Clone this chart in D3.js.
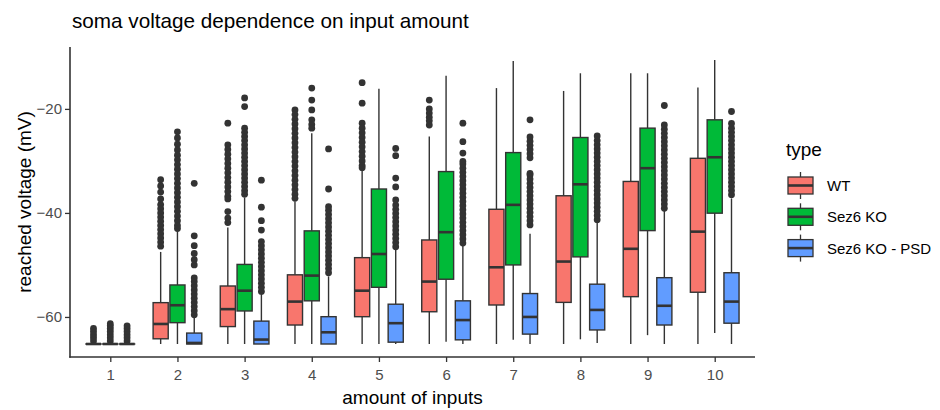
<!DOCTYPE html>
<html>
<head>
<meta charset="utf-8">
<script src="https://cdn.jsdelivr.net/npm/d3@7"></script>
<style>
body { margin: 0; background: #fff; }
text { font-family: "Liberation Sans", Arial, Helvetica, sans-serif; }
</style>
</head>
<body>
<svg id="chart" width="940" height="410"></svg>
<script>
// ---------------- data ----------------
const categories = ["1", "2", "3", "4", "5", "6", "7", "8", "9", "10"];
const types = ["WT", "Sez6 KO", "Sez6 KO - PSD"];
const yTicks = [-60, -40, -20];

// per category: [lower whisker, Q1, median, Q3, upper whisker]  (mV)
const wtStats = [
  [-65.2, -65.2, -65.2, -65.2, -65.2],
  [-65.2, -64.2, -61.35, -57.25, -47.5],
  [-65.2, -61.85, -58.5, -54.05, -42.8],
  [-65.2, -61.55, -57.05, -51.9, -37.8],
  [-65.2, -59.95, -54.95, -48.6, -31.8],
  [-65.2, -59.0, -53.2, -45.2, -25.3],
  [-65.2, -57.7, -50.45, -39.3, -16.0],
  [-65.2, -57.2, -49.35, -36.7, -16.55],
  [-65.2, -56.1, -46.9, -33.95, -13.15],
  [-65.2, -55.25, -43.6, -29.5, -15.9]
];
const koStats = [
  [-65.2, -65.2, -65.2, -65.2, -65.2],
  [-65.2, -61.1, -57.75, -53.85, -43.5],
  [-65.2, -58.85, -54.95, -49.9, -37.0],
  [-65.2, -56.9, -52.05, -43.45, -24.7],
  [-65.2, -54.3, -47.9, -35.4, -16.15],
  [-64.75, -52.75, -43.7, -32.05, -13.65],
  [-64.4, -50.0, -38.45, -28.4, -10.8],
  [-64.3, -48.45, -34.5, -25.5, -13.15],
  [-63.5, -43.4, -31.4, -23.7, -13.15],
  [-63.1, -40.05, -29.3, -22.1, -10.6]
];
const psdStats = [
  [-65.2, -65.2, -65.2, -65.2, -65.2],
  [-65.2, -65.2, -65.0, -63.1, -60.0],
  [-65.2, -65.2, -64.35, -60.8, -54.4],
  [-65.2, -65.2, -62.95, -59.95, -52.2],
  [-65.2, -64.85, -61.2, -57.55, -47.0],
  [-65.2, -64.4, -60.6, -56.9, -46.2],
  [-65.2, -63.3, -60.0, -55.5, -44.0],
  [-65.0, -62.5, -58.65, -53.7, -41.8],
  [-65.2, -61.55, -57.85, -52.45, -39.3],
  [-65.2, -61.2, -57.05, -51.5, -37.2]
];

// outliers per category (mV)
const wtOutliers = [
  [-64.6, -64.0, -63.4, -62.8, -62.2],
  [-33.6, -34.8, -36.0, -37.3, -38.4, -39.2, -40.0, -40.8, -41.6, -42.4, -43.2, -44.0, -44.8, -45.6, -46.4],
  [-22.75, -26.9, -27.8, -28.7, -29.6, -30.5, -31.4, -32.3, -33.2, -34.1, -35.0, -35.9, -36.8, -37.3, -39.75, -41.0, -41.85],
  [-20.2, -21.1, -22.0, -22.9, -23.8, -24.7, -25.6, -26.5, -27.4, -28.3, -29.2, -30.1, -31.0, -31.9, -32.8, -33.7, -34.6, -35.5, -36.4, -37.2],
  [-14.95, -18.9, -22.75, -23.7, -24.6, -25.5, -26.4, -27.3, -28.2, -29.1, -30.0, -30.9, -31.3],
  [-18.3, -20.0, -20.8, -21.6, -22.3, -23.1],
  [], [], [], []
];
const koOutliers = [
  [-64.6, -64.0, -63.4, -62.8, -62.2, -61.7, -61.3],
  [-24.4, -25.6, -26.8, -27.9, -28.9, -29.8, -30.7, -31.6, -32.5, -33.4, -34.3, -35.2, -36.1, -37.0, -37.9, -38.8, -39.7, -40.6, -41.5, -42.4, -43.0],
  [-17.9, -19.55, -23.7, -24.5, -25.3, -26.1, -26.9, -27.7, -28.5, -29.3, -30.1, -30.9, -31.7, -32.5, -33.3, -34.1, -34.9, -35.7, -36.4],
  [-16.0, -18.3, -20.2, -22.1, -23.0, -23.7],
  [], [], [], [], [], []
];
const psdOutliers = [
  [-64.6, -64.0, -63.4, -62.8, -62.2, -61.7],
  [-59.6, -58.8, -58.0, -57.2, -56.4, -55.6, -54.8, -54.0, -53.2, -52.5, -50.0, -49.0, -47.8, -46.3, -44.4, -34.3],
  [-55.1, -54.3, -53.5, -52.7, -51.9, -51.1, -50.3, -49.5, -48.7, -47.9, -47.1, -46.3, -45.5, -43.3, -41.5, -38.9, -33.7],
  [-51.5, -50.7, -49.9, -49.1, -48.3, -47.5, -46.7, -45.9, -45.1, -44.3, -43.5, -42.7, -41.9, -41.1, -40.3, -39.5, -38.8, -35.4, -27.7],
  [-46.5, -45.7, -44.9, -44.1, -43.3, -42.5, -41.7, -40.9, -40.1, -39.3, -38.5, -37.5, -35.0, -33.3, -29.0, -27.6],
  [-45.8, -45.0, -44.2, -43.4, -42.6, -41.8, -41.0, -40.2, -39.4, -38.6, -37.8, -37.0, -36.2, -35.4, -34.6, -33.8, -33.0, -32.2, -31.4, -30.6, -30.1, -28.5, -26.3, -22.75],
  [-42.3, -41.5, -40.7, -39.9, -39.1, -38.3, -37.5, -36.7, -35.9, -35.1, -34.3, -33.5, -32.7, -32.4, -29.4, -28.6, -27.8, -27.0, -26.2, -25.4, -22.1],
  [-41.3, -40.5, -39.7, -38.9, -38.1, -37.3, -36.5, -35.7, -34.9, -34.1, -33.3, -32.5, -31.7, -30.9, -30.1, -29.3, -28.5, -27.7, -26.9, -26.1, -25.2],
  [-39.1, -38.3, -37.5, -36.7, -35.9, -35.1, -34.3, -33.5, -32.7, -31.9, -31.1, -30.3, -29.5, -28.7, -27.9, -27.1, -26.3, -25.5, -24.7, -23.9, -23.1, -19.35],
  [-36.5, -35.7, -34.9, -34.1, -33.3, -32.5, -31.7, -30.9, -30.1, -29.3, -28.5, -27.7, -26.9, -26.1, -25.3, -24.5, -23.7, -22.8, -20.5]
];

const colors = ["#F8766D", "#00BA38", "#619CFF"];
const statsByType = [wtStats, koStats, psdStats];
const outliersByType = [wtOutliers, koOutliers, psdOutliers];

// ---------------- layout ----------------
const svg = d3.select("#chart");
const plotLeft = 70, plotRight = 755, plotTop = 47, plotBottom = 357;

const x = d3.scalePoint().domain(categories).range([plotLeft, plotRight]).padding(0.6);
const step = x.step();
const dodge = d3.scalePoint().domain(types).range([-0.25 * step, 0.25 * step]);
const boxW = 0.225 * step;
const y = d3.scaleLinear().domain([-67.7, -8.1]).range([plotBottom, plotTop]);

const ink = "#333333";

// boxes
types.forEach((t, ti) => {
  const g = svg.append("g");
  categories.forEach((c, ci) => {
    const [lo, q1, med, q3, hi] = statsByType[ti][ci];
    const cx = x(c) + dodge(t);
    g.append("line").attr("x1", cx).attr("x2", cx).attr("y1", y(hi)).attr("y2", y(q3))
      .attr("stroke", ink).attr("stroke-width", 1.4);
    g.append("line").attr("x1", cx).attr("x2", cx).attr("y1", y(q1)).attr("y2", y(lo))
      .attr("stroke", ink).attr("stroke-width", 1.4);
    g.selectAll(null).data(outliersByType[ti][ci]).enter().append("circle")
      .attr("cx", cx).attr("cy", d => y(d)).attr("r", 3.4).attr("fill", ink);
    g.append("rect").attr("x", cx - boxW / 2).attr("width", boxW)
      .attr("y", y(q3)).attr("height", Math.max(0.01, y(q1) - y(q3)))
      .attr("fill", colors[ti]).attr("stroke", ink).attr("stroke-width", 1.4);
    g.append("line").attr("x1", cx - boxW / 2).attr("x2", cx + boxW / 2)
      .attr("y1", y(med)).attr("y2", y(med))
      .attr("stroke", ink).attr("stroke-width", 2.6);
  });
});

// axes
const yAxis = svg.append("g").attr("transform", `translate(${plotLeft},0)`)
  .call(d3.axisLeft(y).tickValues(yTicks).tickSize(5).tickPadding(3).tickSizeOuter(0));
const xAxis = svg.append("g").attr("transform", `translate(0,${plotBottom})`)
  .call(d3.axisBottom(x).tickSize(5).tickPadding(7).tickSizeOuter(0));
[yAxis, xAxis].forEach(a => {
  a.select(".domain").remove();
  a.selectAll(".tick line").attr("stroke", ink).attr("stroke-width", 1.3);
  a.selectAll(".tick text").attr("fill", "#4D4D4D").style("font-size", "15px");
});
svg.append("line").attr("x1", plotLeft).attr("x2", plotLeft).attr("y1", plotTop).attr("y2", plotBottom + 0.7)
  .attr("stroke", ink).attr("stroke-width", 1.6);
svg.append("line").attr("x1", plotLeft - 0.7).attr("x2", plotRight).attr("y1", plotBottom).attr("y2", plotBottom)
  .attr("stroke", ink).attr("stroke-width", 1.6);

// titles
svg.append("text").attr("x", 72).attr("y", 28).text("soma voltage dependence on input amount")
  .style("font-size", "20.7px").attr("fill", "#000");
svg.append("text").attr("x", (plotLeft + plotRight) / 2).attr("y", 404).attr("text-anchor", "middle")
  .text("amount of inputs").style("font-size", "19px").attr("fill", "#000");
svg.append("text").attr("transform", `translate(31,${(plotTop + plotBottom) / 2}) rotate(-90)`)
  .attr("text-anchor", "middle").text("reached voltage (mV)")
  .style("font-size", "19px").attr("fill", "#000");

// legend
const lg = svg.append("g");
lg.append("text").attr("x", 786).attr("y", 156).text("type").style("font-size", "19px").attr("fill", "#000");
types.forEach((t, i) => {
  const cy = 185.5 + i * 31.3;
  const kx = 800.5;
  lg.append("line").attr("x1", kx).attr("x2", kx).attr("y1", cy - 13.5).attr("y2", cy + 13.5)
    .attr("stroke", ink).attr("stroke-width", 1.3);
  lg.append("rect").attr("x", kx - 12.5).attr("width", 25).attr("y", cy - 8.5).attr("height", 17)
    .attr("fill", colors[i]).attr("stroke", ink).attr("stroke-width", 1.3);
  lg.append("line").attr("x1", kx - 12.5).attr("x2", kx + 12.5).attr("y1", cy).attr("y2", cy)
    .attr("stroke", ink).attr("stroke-width", 2.6);
  lg.append("text").attr("x", 827).attr("y", cy).attr("dy", "0.36em").text(t)
    .style("font-size", "15px").attr("fill", "#000");
});
</script>
</body>
</html>
